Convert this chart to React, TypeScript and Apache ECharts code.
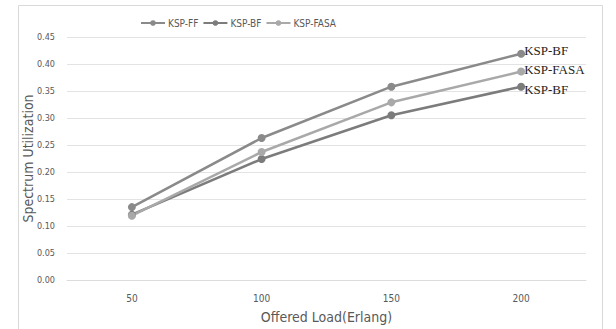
import React, { useEffect, useRef } from "react";
import * as echarts from "echarts";

const categories = ["50", "100", "150", "200"];
const seriesNames = ["KSP-FF", "KSP-BF", "KSP-FASA"];
const ffValues = [0.135, 0.263, 0.358, 0.419];
const bfValues = [0.121, 0.224, 0.305, 0.358];
const fasaValues = [0.119, 0.237, 0.329, 0.386];
const endLabels = ["KSP-BF", "KSP-BF", "KSP-FASA"];
const colors = ["#8a8a8a", "#7c7c7c", "#a9a9a9"];

const FONT = "'DejaVu Sans Condensed', 'Liberation Sans Narrow', 'Open Sans', sans-serif";

export default function App() {
  const ref = useRef<HTMLDivElement>(null);
  useEffect(() => {
    if (!ref.current) return;
    const chart = echarts.init(ref.current, null, { renderer: "svg" });
    const data = [ffValues, bfValues, fasaValues];
    const offsets = [[0, -3], [0, 3], [0, -2]];
    chart.setOption({
      animation: false,
      backgroundColor: "#fff",
      graphic: [
        {
          type: "rect",
          shape: { x: 18.5, y: 5.5, width: 584, height: 330 },
          style: { fill: "none", stroke: "#d9d9d9", lineWidth: 1 },
          silent: true,
        },
      ],
      legend: {
        left: 135,
        top: 13,
        itemWidth: 24,
        itemHeight: 7,
        itemGap: 4,
        textStyle: { fontFamily: FONT, fontSize: 10, color: "#595959", padding: [0, 0, 0, -2] },
        data: seriesNames,
      },
      grid: { left: 67, right: 30, top: 37, bottom: 47 },
      xAxis: {
        type: "category",
        data: categories,
        boundaryGap: true,
        axisLine: { lineStyle: { color: "#dcdcdc" } },
        axisTick: { show: false },
        axisLabel: { fontFamily: FONT, fontSize: 10, color: "#595959", margin: 13 },
        name: "Offered Load(Erlang)",
        nameLocation: "middle",
        nameGap: 30,
        nameMoveOverlap: false,
        nameTextStyle: { fontFamily: FONT, fontSize: 14, color: "#595959" },
      },
      yAxis: {
        type: "value",
        min: 0,
        max: 0.45,
        interval: 0.05,
        axisLine: { show: false },
        axisTick: { show: false },
        splitLine: { lineStyle: { color: "#e3e3e3" } },
        axisLabel: {
          fontFamily: FONT,
          fontSize: 9,
          color: "#595959",
          margin: 12,
          formatter: (v: number) => v.toFixed(2),
        },
        name: "Spectrum Utilization",
        nameLocation: "middle",
        nameGap: 32,
        nameMoveOverlap: false,
        nameTextStyle: { fontFamily: FONT, fontSize: 14, color: "#595959" },
      },
      series: seriesNames.map((name, i) => ({
        name,
        type: "line",
        data: data[i],
        symbol: "circle",
        symbolSize: 8,
        color: colors[i],
        lineStyle: { width: 2.5, color: colors[i] },
        itemStyle: { color: colors[i] },
        endLabel: {
          show: true,
          formatter: () => endLabels[i],
          fontFamily: "'Liberation Serif', serif",
          fontSize: 13,
          fontWeight: "normal",
          color: "#222",
          textBorderWidth: 0,
          textBorderColor: "transparent",
          distance: 3,
          offset: offsets[i],
        },
      })),
    });
    return () => chart.dispose();
  }, []);
  return (
    <div
      ref={ref}
      style={{ position: "fixed", left: 0, top: 0, width: 616, height: 329 }}
    />
  );
}
